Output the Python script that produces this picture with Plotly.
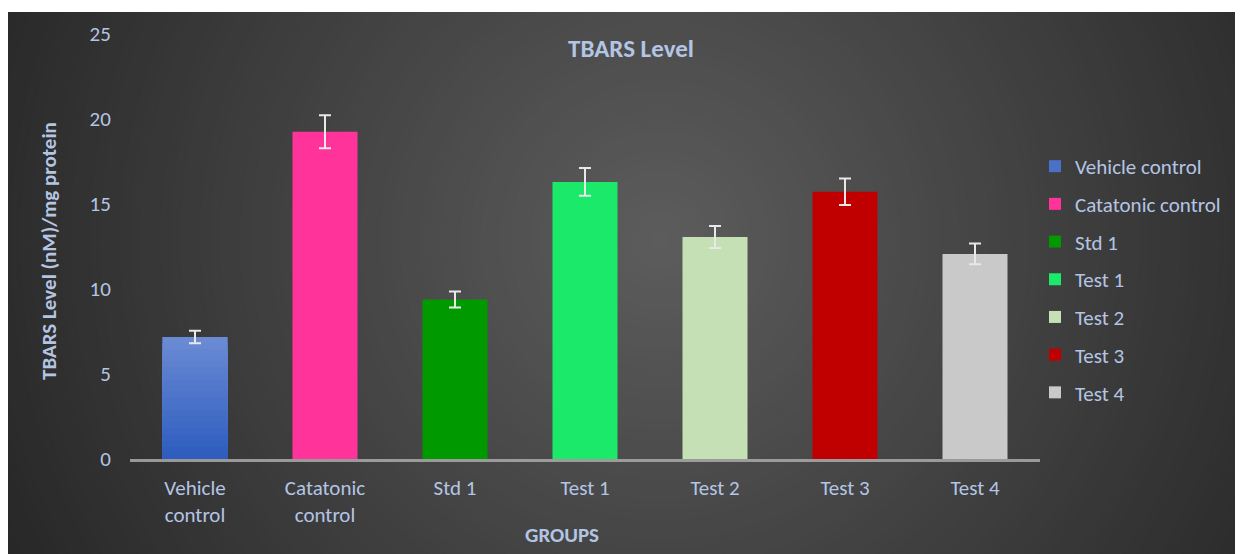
import plotly.graph_objects as go

# ---- data ----
groups = ["Vehicle control", "Catatonic control", "Std 1", "Test 1", "Test 2", "Test 3", "Test 4"]
tick_labels = ["Vehicle<br>control", "Catatonic<br>control", "Std 1", "Test 1", "Test 2", "Test 3", "Test 4"]
tbars = [7.18, 19.25, 9.38, 16.3, 13.06, 15.72, 12.06]
sem = [0.37, 0.97, 0.47, 0.82, 0.65, 0.78, 0.61]
colors = ["#4b70c8", "#ff3399", "#009900", "#1ae96a", "#c5e0b4", "#c00000", "#c9c9c9"]
y_ticks = [0, 5, 10, 15, 20, 25]

OFF = 8  # page body margin
W, H = 1235, 546
ML, MR, MT, MB = 122, 203, 26, 95
PW, PH = W - ML - MR, H - MT - MB
FONT = "Carlito, Lato, Calibri, sans-serif"
TXT = "#b4c5e4"


def px_x(p):  # page pixel -> paper x
    return (p - OFF - ML) / PW


def px_y(p):  # page pixel -> paper y
    return (H - MB - (p - OFF)) / PH


fig = go.Figure()

# bars (one trace per group for the legend)
for i, g in enumerate(groups):
    fig.add_trace(go.Bar(
        x=[tick_labels[i]], y=[tbars[i]], name=g, legendgroup=g,
        marker=dict(color=colors[i], line=dict(width=0)), width=0.5,
    ))

# vertical gradient on the Vehicle control bar (drawn from its value)
N = 20
top_rgb = (0x6a, 0x8a, 0xd3)
bot_rgb = (0x2e, 0x5d, 0xbf)
v = tbars[0]
for k in range(N - 1, -1, -1):
    t = k / (N - 1)
    c = tuple(int(round(bot_rgb[j] + (top_rgb[j] - bot_rgb[j]) * t)) for j in range(3))
    fig.add_trace(go.Bar(
        x=[tick_labels[0]], y=[v * (k + 1) / N], showlegend=False, hoverinfo="skip",
        legendgroup=groups[0],
        marker=dict(color="rgb(%d,%d,%d)" % c, line=dict(width=0)), width=0.5,
    ))

# error bars on top
fig.add_trace(go.Scatter(
    x=tick_labels, y=tbars, mode="markers", marker=dict(opacity=0, size=1),
    showlegend=False, hoverinfo="skip",
    error_y=dict(type="data", array=sem, visible=True, color="#e8e8e8", thickness=2, width=6),
))

# background: dark radial gradient
shapes = []
cx, cy = 660, 240
R = 720
steps = 72
c_in, c_out = 92, 40
for s in range(steps):
    r = R * (1 - s / steps)
    t = s / (steps - 1)
    g = int(round(c_out + (c_in - c_out) * t))
    shapes.append(dict(
        type="circle", xref="paper", yref="paper", layer="below",
        x0=px_x(cx - r), x1=px_x(cx + r), y0=px_y(cy + r), y1=px_y(cy - r),
        fillcolor="rgb(%d,%d,%d)" % (g, g, g), line=dict(width=0),
    ))
# white page border outside the chart area
for (x0, x1, y0, y1) in [(0, 1260, 0, 12), (1240, 1260, 0, 560)]:
    shapes.append(dict(
        type="rect", xref="paper", yref="paper", layer="below",
        x0=px_x(x0), x1=px_x(x1), y0=px_y(y1), y1=px_y(y0),
        fillcolor="white", line=dict(width=0),
    ))

annotations = [
    dict(text="<b>TBARS Level</b>", xref="paper", yref="paper", x=px_x(631), y=px_y(48),
         xanchor="center", yanchor="middle",
         showarrow=False, font=dict(size=25, color=TXT, family=FONT)),
    dict(text="<b>GROUPS</b>", xref="paper", yref="paper", x=px_x(562), y=px_y(535),
         xanchor="center", yanchor="middle",
         showarrow=False, font=dict(size=21, color=TXT, family=FONT)),
    dict(text="<b>TBARS Level (nM)/mg protein</b>", xref="paper", yref="paper",
         x=px_x(49), y=px_y(251), textangle=-90, xanchor="center", yanchor="middle",
         showarrow=False, font=dict(size=21, color=TXT, family=FONT)),
]

fig.update_layout(
    width=W, height=H,
    margin=dict(l=ML, r=MR, t=MT, b=MB, pad=0),
    paper_bgcolor="rgb(40,40,40)", plot_bgcolor="rgba(0,0,0,0)",
    barmode="overlay",
    shapes=shapes, annotations=annotations,
    font=dict(family=FONT, color=TXT, size=21),
    showlegend=True,
    legend=dict(
        x=px_x(1035), xanchor="left", y=px_y(146), yanchor="top",
        bgcolor="rgba(0,0,0,0)", font=dict(size=21, color=TXT, family=FONT),
        tracegroupgap=7.4, itemsizing="constant",
    ),
    xaxis=dict(
        categoryorder="array", categoryarray=tick_labels,
        showline=True, linecolor="rgba(170,170,170,0.85)", linewidth=2.5,
        showgrid=False, zeroline=False,
        ticks="outside", ticklen=8, tickcolor="rgba(0,0,0,0)",
        tickfont=dict(size=21, color=TXT, family=FONT),
    ),
    yaxis=dict(
        range=[0, 25], tickvals=y_ticks,
        showline=False, showgrid=False, zeroline=False,
        ticks="outside", ticklen=14, tickcolor="rgba(0,0,0,0)",
        tickfont=dict(size=21, color=TXT, family=FONT),
    ),
)

fig.write_html("out.html")
